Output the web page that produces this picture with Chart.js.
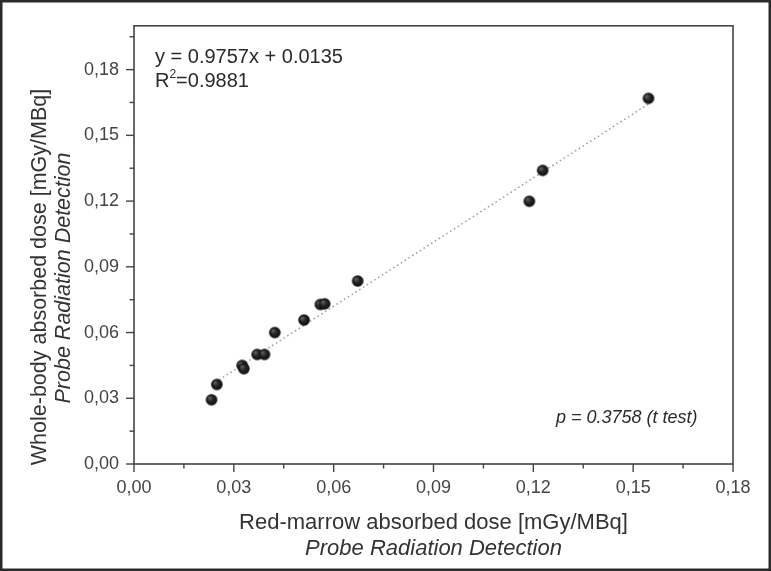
<!DOCTYPE html>
<html>
<head>
<meta charset="utf-8">
<script src="https://cdn.jsdelivr.net/npm/chart.js@4/dist/chart.umd.min.js"></script>
<style>
  html, body { margin: 0; padding: 0; background: #fff; }
  #wrap { width: 771px; height: 571px; position: relative; }
</style>
</head>
<body>
<div id="wrap"><canvas id="c" width="771" height="571"></canvas></div>
<script>
// ---- data ----
const redMarrow = [0.0233, 0.0249, 0.0325, 0.0330, 0.0370, 0.0392, 0.0423, 0.0511, 0.0560, 0.0573, 0.0672, 0.1188, 0.1228, 0.1546];
const wholeBody = [0.0293, 0.0363, 0.0450, 0.0435, 0.0500, 0.0500, 0.0600, 0.0657, 0.0728, 0.0731, 0.0835, 0.1199, 0.1340, 0.1669];
const fitX = [0.0233, 0.1546];
const fitY = [0.0362, 0.1643];
const xTickValues = [0, 0.03, 0.06, 0.09, 0.12, 0.15, 0.18];
const yTickValues = [0, 0.03, 0.06, 0.09, 0.12, 0.15, 0.18];
const xTitle = ["Red-marrow absorbed dose [mGy/MBq]", "Probe Radiation Detection"];
const yTitle = ["Whole-body absorbed dose [mGy/MBq]", "Probe Radiation Detection"];
const eqText = "y = 0.9757x + 0.0135";
const r2Text = "0.9881";
const pText = "p = 0.3758 (t test)";

const FONT = "'Liberation Sans', Arial, sans-serif";

// sphere-like marker
function makeBall(r) {
  const s = Math.ceil(r * 2 + 2);
  const cv = document.createElement('canvas');
  cv.width = s; cv.height = s;
  const g = cv.getContext('2d');
  const c = s / 2;
  const grad = g.createRadialGradient(c - r * 0.35, c - r * 0.35, r * 0.1, c, c, r);
  grad.addColorStop(0, '#5e5e5e');
  grad.addColorStop(0.45, '#252525');
  grad.addColorStop(1, '#0e0e0e');
  g.fillStyle = grad;
  g.beginPath(); g.arc(c, c, r, 0, Math.PI * 2); g.fill();
  return cv;
}
const ball = makeBall(5.8);

const points = redMarrow.map((x, i) => ({ x: x, y: wholeBody[i] }));
const fitPts = fitX.map((x, i) => ({ x: x, y: fitY[i] }));

const decor = {
  id: 'decor',
  afterDraw(chart) {
    const ctx = chart.ctx;
    const xs = chart.scales.x, ys = chart.scales.y;
    const a = chart.chartArea;
    ctx.save();
    // outer frame
    ctx.strokeStyle = '#2a2a2a';
    ctx.lineWidth = 2.5;
    ctx.strokeRect(1.25, 1.25, 771 - 2.5, 571 - 2.5);
    // plot box
    ctx.strokeStyle = '#444';
    ctx.lineWidth = 1.6;
    ctx.strokeRect(a.left, a.top, a.right - a.left, a.bottom - a.top);
    // ticks (major every 0.03, minor every 0.015)
    ctx.lineWidth = 1.4;
    ctx.strokeStyle = '#444';
    for (let k = 0; k <= 13; k++) {
      const v = k * 0.015;
      const major = k % 2 === 0;
      const len = major ? 8 : 4.5;
      if (v <= xs.max + 1e-9) {
        const px = xs.getPixelForValue(v);
        ctx.beginPath(); ctx.moveTo(px, a.bottom); ctx.lineTo(px, a.bottom + len); ctx.stroke();
      }
      if (v <= ys.max + 1e-9) {
        const py = ys.getPixelForValue(v);
        ctx.beginPath(); ctx.moveTo(a.left, py); ctx.lineTo(a.left - len, py); ctx.stroke();
      }
    }
    // axis titles
    ctx.fillStyle = '#333';
    ctx.textAlign = 'center';
    ctx.textBaseline = 'middle';
    const cx = (a.left + a.right) / 2;
    ctx.font = "22px " + FONT;
    ctx.fillText(xTitle[0], cx, 523);
    ctx.font = "italic 22px " + FONT;
    ctx.fillText(xTitle[1], cx, 549);
    ctx.save();
    ctx.translate(40, 277);
    ctx.rotate(-Math.PI / 2);
    ctx.font = "21.5px " + FONT;
    ctx.fillText(yTitle[0], 0, 0);
    ctx.restore();
    ctx.save();
    ctx.translate(64, 278);
    ctx.rotate(-Math.PI / 2);
    ctx.font = "italic 21.5px " + FONT;
    ctx.fillText(yTitle[1], 0, 0);
    ctx.restore();
    // annotations
    ctx.textAlign = 'left';
    ctx.textBaseline = 'alphabetic';
    ctx.fillStyle = '#2a2a2a';
    ctx.font = "20px " + FONT;
    ctx.fillText(eqText, 155, 63);
    ctx.fillText("R", 155, 87);
    const rw = ctx.measureText("R").width;
    ctx.font = "12px " + FONT;
    ctx.fillText("2", 155 + rw, 78);
    const sw = ctx.measureText("2").width;
    ctx.font = "20px " + FONT;
    ctx.fillText("=" + r2Text, 155 + rw + sw, 87);
    ctx.font = "italic 18px " + FONT;
    ctx.fillText(pText, 556, 423);
    ctx.restore();
  }
};

new Chart(document.getElementById('c'), {
  type: 'scatter',
  data: {
    datasets: [
      {
        label: 'fit',
        type: 'line',
        data: fitPts,
        borderColor: '#9a9a9a',
        borderWidth: 1.5,
        borderDash: [1.5, 3],
        pointRadius: 0,
        fill: false,
        order: 2
      },
      {
        label: 'data',
        data: points,
        pointStyle: ball,
        pointRadius: 5.8,
        order: 1
      }
    ]
  },
  plugins: [decor],
  options: {
    responsive: false,
    animation: false,
    devicePixelRatio: 1,
    layout: { padding: { left: 0, top: 23, right: 38, bottom: 0 } },
    plugins: { legend: { display: false }, tooltip: { enabled: false } },
    scales: {
      x: {
        type: 'linear',
        min: 0, max: 0.18,
        afterFit(s) { s.height = 571 - 464; },
        afterBuildTicks(s) { s.ticks = xTickValues.map(v => ({ value: v })); },
        grid: { display: false, drawTicks: false },
        border: { display: false },
        ticks: {
          padding: 13,
          color: '#444',
          font: { family: FONT, size: 18 },
          callback: v => v.toFixed(2).replace('.', ',')
        }
      },
      y: {
        type: 'linear',
        min: 0, max: 0.2,
        afterFit(s) { s.width = 134; },
        afterBuildTicks(s) { s.ticks = yTickValues.map(v => ({ value: v })); },
        grid: { display: false, drawTicks: false },
        border: { display: false },
        ticks: {
          padding: 15,
          color: '#444',
          font: { family: FONT, size: 18 },
          callback: v => v.toFixed(2).replace('.', ',')
        }
      }
    }
  }
});
</script>
</body>
</html>
